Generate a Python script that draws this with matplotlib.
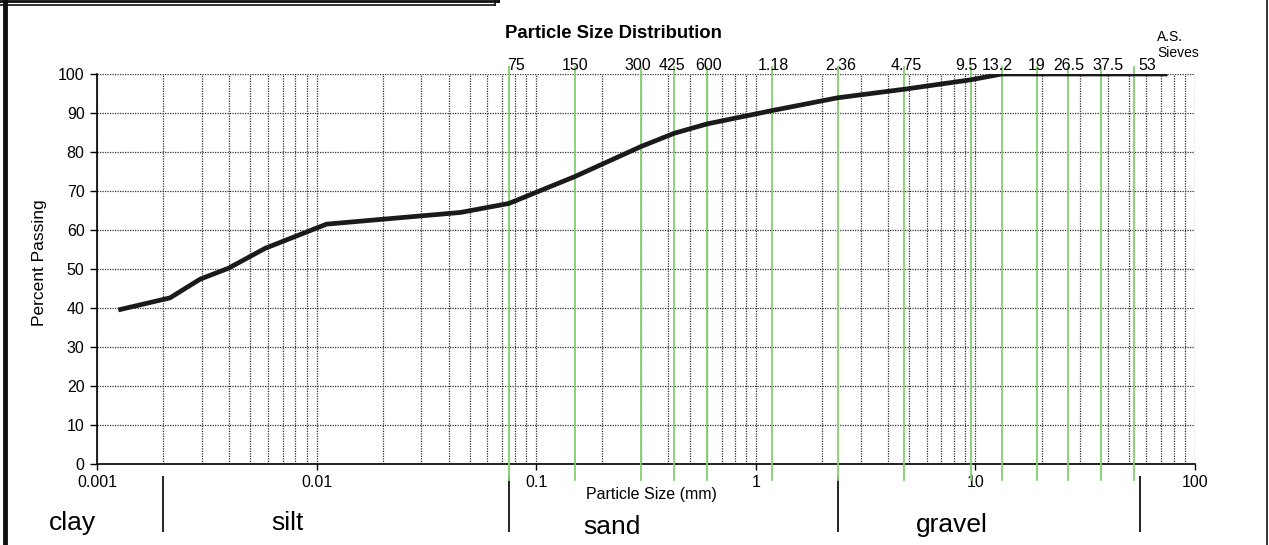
import matplotlib
matplotlib.use("Agg")
import matplotlib.pyplot as plt
import matplotlib.transforms as mtransforms
from matplotlib.lines import Line2D
from matplotlib.ticker import FixedLocator, LogLocator, NullFormatter

plt.rcParams['font.family'] = ['Liberation Sans', 'DejaVu Sans']

# grading curve (mm, % passing)
sizes = [0.00125, 0.00215, 0.00295, 0.00397, 0.00583, 0.0111, 0.0452, 0.075,
         0.15, 0.3, 0.425, 0.6, 1.18, 2.36, 4.75, 9.5, 13.2, 19, 26.5, 37.5, 53, 75]
passing = [39.5, 42.6, 47.4, 50.2, 55.3, 61.5, 64.5, 66.8,
           73.7, 81.4, 84.8, 87.2, 90.6, 93.9, 96.1, 98.5, 100, 100, 100, 100, 100, 100]

# A.S. sieve apertures (mm) and their labels
sieves = [0.075, 0.15, 0.3, 0.425, 0.6, 1.18, 2.36, 4.75, 9.5, 13.2, 19, 26.5, 37.5, 53]
sieve_labels = ['75', '150', '300', '425', '600', '1.18', '2.36', '4.75', '9.5',
                '13.2', '19', '26.5', '37.5', '53']

# soil class boundaries (mm) and names
class_bounds = [0.002, 0.075, 2.36, 56]
class_names = ['clay', 'silt', 'sand', 'gravel']

x_ticks = [0.001, 0.01, 0.1, 1, 10, 100]
x_tick_labels = ['0.001', '0.01', '0.1', '1', '10', '100']
y_ticks = [0, 10, 20, 30, 40, 50, 60, 70, 80, 90, 100]

W, H = 1269, 545
fig = plt.figure(figsize=(W / 100, H / 100), dpi=100)
ax = fig.add_axes([97 / W, 1 - 464 / H, (1195 - 97) / W, (464 - 74) / H])

ax.set_xscale('log')
ax.set_xlim(0.001, 100)
ax.set_ylim(0, 100)

# grid
ax.xaxis.set_major_locator(FixedLocator(x_ticks))
ax.set_xticklabels(x_tick_labels)
ax.xaxis.set_minor_locator(LogLocator(base=10, subs=range(2, 10)))
ax.xaxis.set_minor_formatter(NullFormatter())
ax.set_yticks(y_ticks)
ax.grid(True, which='both', axis='x', color='#333333', linestyle=(0, (1, 1)), linewidth=0.9)
ax.grid(True, which='major', axis='y', color='#333333', linestyle=(0, (1, 1)), linewidth=0.9)
ax.tick_params(axis='x', which='major', direction='out', length=4, width=1, pad=4, labelsize=11.5)
ax.tick_params(axis='x', which='minor', length=0)
ax.tick_params(axis='y', direction='out', length=5, width=1, pad=4, labelsize=11.5)
for s in ['top', 'right']:
    ax.spines[s].set_visible(False)
for s in ['left', 'bottom']:
    ax.spines[s].set_linewidth(1.2)

# sieve lines
trans = mtransforms.blended_transform_factory(ax.transData, ax.transAxes)
nudges = [7, 0, -3, -2, 1, 2, 3, 2, -4, -5, 0, 0, 7, 13]
for s, lab, dx in zip(sieves, sieve_labels, nudges):
    ax.plot([s, s], [-0.04, 1.018], transform=trans, color='#86cf6e', linewidth=1.3,
            clip_on=False, zorder=3)
    off = mtransforms.offset_copy(trans, fig=fig, x=dx * 0.72, y=1.0, units='points')
    ax.text(s, 1.0, lab, transform=off, ha='center', va='bottom', fontsize=11.5, zorder=4)

# grading curve
ax.plot(sizes, passing, color='#1a1a1a', linewidth=3.4, solid_capstyle='butt',
        solid_joinstyle='round', zorder=5)

# soil class dividers and names
for b in class_bounds:
    ax.plot([b, b], [-0.033, -0.172], transform=trans, color='#222222', linewidth=1.4,
            clip_on=False)
name_px = [(72, 523), (287, 523), (612, 527), (952, 525)]
for name, (px, py) in zip(class_names, name_px):
    fig.text(px / W, 1 - py / H, name, ha='center', va='center', fontsize=19)

fig.text(613 / W, 1 - 33 / H, 'Particle Size Distribution', ha='center', va='center',
         fontsize=13.3, fontweight='bold')
fig.text(1157 / W, 1 - 37 / H, 'A.S.', ha='left', va='center', fontsize=10)
fig.text(1157 / W, 1 - 53 / H, 'Sieves', ha='left', va='center', fontsize=10)
fig.text(651 / W, 1 - 494 / H, 'Particle Size (mm)', ha='center', va='center', fontsize=11.5)
fig.text(40 / W, 1 - 263 / H, 'Percent Passing', ha='center', va='center', rotation=90,
         fontsize=12.5)


# page frame around the chart
def px_line(xs, ys, lw):
    fig.add_artist(Line2D([x / W for x in xs], [1 - y / H for y in ys],
                          transform=fig.transFigure, color='#111111', linewidth=lw))


px_line([5, 5], [0, H], 3.5)
px_line([1267, 1267], [0, H], 1.2)
px_line([0, 498], [1, 1], 2.0)
px_line([0, 495], [5, 5], 1.2)
px_line([495, 495], [0, 5], 1.2)
px_line([498, 498], [0, 1], 2.0)

fig.savefig('out.png', dpi=100)
